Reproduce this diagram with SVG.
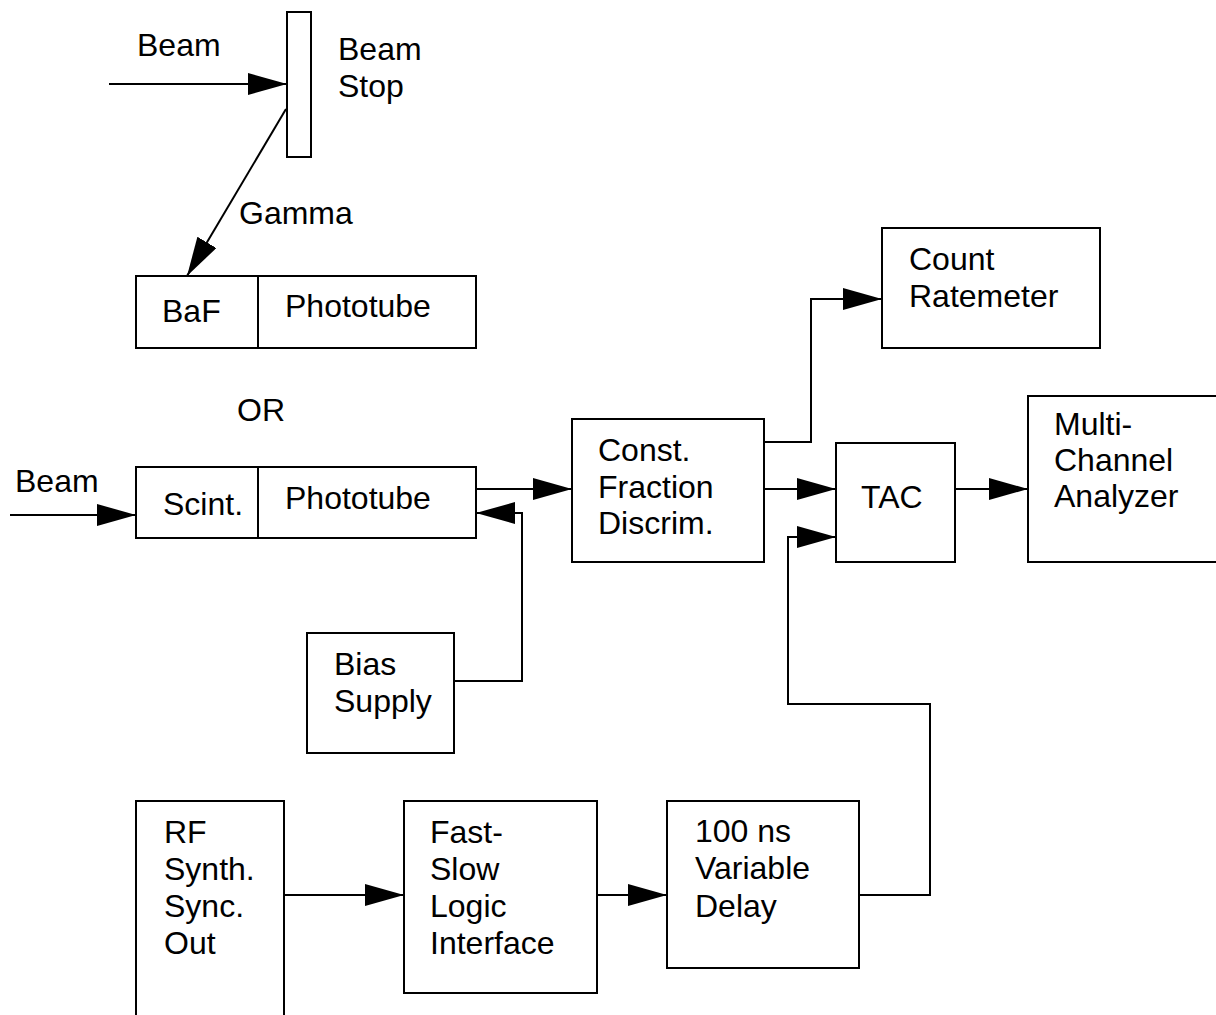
<svg xmlns="http://www.w3.org/2000/svg" width="1216" height="1015" viewBox="0 0 1216 1015">
<style>
.box{fill:#fff;stroke:#000;stroke-width:2}
.ln{fill:none;stroke:#000;stroke-width:2}
text{font-family:"Liberation Sans",Arial,sans-serif;font-size:32px;fill:#000}
</style>
<defs>
<marker id="ah" markerUnits="userSpaceOnUse" markerWidth="40" markerHeight="24" refX="39" refY="11" orient="auto" viewBox="0 0 40 24">
<path d="M0,0 L39,11 L0,22 Z" fill="#000"/>
</marker>
</defs>
<rect width="1216" height="1015" fill="#fff"/>
<g id="connectors">
<path class="ln" d="M109,84 H287" marker-end="url(#ah)"/>
<path class="ln" d="M286,109 L187,276" marker-end="url(#ah)"/>
<path class="ln" d="M10,515 H136" marker-end="url(#ah)"/>
<path class="ln" d="M476,489 H572" marker-end="url(#ah)"/>
<path class="ln" d="M453,681 H522 V513 H476" marker-end="url(#ah)"/>
<path class="ln" d="M764,442 H811 V299 H882" marker-end="url(#ah)"/>
<path class="ln" d="M764,489 H836" marker-end="url(#ah)"/>
<path class="ln" d="M955,489 H1028" marker-end="url(#ah)"/>
<path class="ln" d="M284,895 H404" marker-end="url(#ah)"/>
<path class="ln" d="M597,895 H667" marker-end="url(#ah)"/>
<path class="ln" d="M859,895 H930 V704 H788 V537 H836" marker-end="url(#ah)"/>
</g>
<g id="labels">
<text x="137" y="56">Beam</text>
<text x="239" y="224">Gamma</text>
<text x="237" y="421">OR</text>
<text x="15" y="492">Beam</text>
</g>
<g id="beamstop">
<rect class="box" x="287" y="12" width="24" height="145"/>
<text x="338" y="60">Beam</text>
<text x="338" y="97">Stop</text>
</g>
<g id="baf">
<rect class="box" x="136" y="276" width="340" height="72"/>
<line class="ln" x1="258" y1="276" x2="258" y2="348"/>
<text x="162" y="322">BaF</text>
<text x="285" y="317">Phototube</text>
</g>
<g id="scint">
<rect class="box" x="136" y="467" width="340" height="71"/>
<line class="ln" x1="258" y1="467" x2="258" y2="538"/>
<text x="163" y="515">Scint.</text>
<text x="285" y="509">Phototube</text>
</g>
<g id="cfd">
<rect class="box" x="572" y="419" width="192" height="143"/>
<text x="598" y="461">Const.</text>
<text x="598" y="498">Fraction</text>
<text x="598" y="534">Discrim.</text>
</g>
<g id="count">
<rect class="box" x="882" y="228" width="218" height="120"/>
<text x="909" y="270">Count</text>
<text x="909" y="307">Ratemeter</text>
</g>
<g id="tac">
<rect class="box" x="836" y="443" width="119" height="119"/>
<text x="861" y="508">TAC</text>
</g>
<g id="mca">
<rect class="box" x="1028" y="396" width="200" height="166"/>
<text x="1054" y="435">Multi-</text>
<text x="1054" y="471">Channel</text>
<text x="1054" y="507">Analyzer</text>
</g>
<g id="bias">
<rect class="box" x="307" y="633" width="147" height="120"/>
<text x="334" y="675">Bias</text>
<text x="334" y="712">Supply</text>
</g>
<g id="rf">
<rect class="box" x="136" y="801" width="148" height="240"/>
<text x="164" y="843">RF</text>
<text x="164" y="880">Synth.</text>
<text x="164" y="917">Sync.</text>
<text x="164" y="954">Out</text>
</g>
<g id="fastslow">
<rect class="box" x="404" y="801" width="193" height="192"/>
<text x="430" y="843">Fast-</text>
<text x="430" y="880">Slow</text>
<text x="430" y="917">Logic</text>
<text x="430" y="954">Interface</text>
</g>
<g id="delay">
<rect class="box" x="667" y="801" width="192" height="167"/>
<text x="695" y="842">100 ns</text>
<text x="695" y="879">Variable</text>
<text x="695" y="917">Delay</text>
</g>
</svg>
